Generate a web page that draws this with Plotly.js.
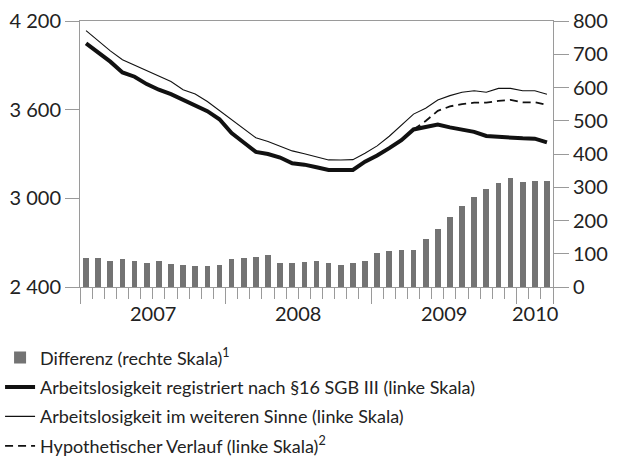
<!DOCTYPE html>
<html>
<head>
<meta charset="utf-8">
<script src="https://cdn.plot.ly/plotly-3.0.1.min.js"></script>
<style>html,body{margin:0;padding:0;background:#fff;}#chart{width:619px;height:459px;}</style>
</head>
<body>
<div id="chart"></div>
<script>
// Monthly data, Jan 2007 – Mar 2010 (thousands)
var months = ["2007-01","2007-02","2007-03","2007-04","2007-05","2007-06","2007-07","2007-08","2007-09","2007-10","2007-11","2007-12",
              "2008-01","2008-02","2008-03","2008-04","2008-05","2008-06","2008-07","2008-08","2008-09","2008-10","2008-11","2008-12",
              "2009-01","2009-02","2009-03","2009-04","2009-05","2009-06","2009-07","2009-08","2009-09","2009-10","2009-11","2009-12",
              "2010-01","2010-02","2010-03"];
var differenz = [86,86,79,83,77,73,77,70,67,63,63,67,
                 83,86,89,95,73,73,76,79,72,66,72,79,
                 101,108,111,111,143,175,211,244,272,295,314,327,
                 317,320,320];
var registriert = [4049,3990,3925,3852,3823,3773,3735,3705,3665,3632,3590,3535,
                   3442,3378,3314,3300,3276,3237,3228,3210,3192,3192,3192,3248,
                   3290,3340,3393,3466,3485,3500,3480,3468,3450,3422,3417,3407,
                   3406,3404,3379];
var weiterSinne = [4135,4065,3998,3938,3902,3862,3828,3790,3735,3706,3655,3595,
                   3530,3470,3410,3385,3352,3321,3302,3280,3260,3259,3262,3305,
                   3355,3420,3494,3570,3610,3665,3695,3718,3728,3718,3744,3744,
                   3728,3728,3704];
var hypothetisch = [null,null,null,null,null,null,null,null,null,null,null,null,
                    null,null,null,null,null,null,null,null,null,null,null,null,
                    null,null,null,3466,3523,3592,3622,3638,3647,3647,3660,3666,
                    3650,3650,3632];
var years = ["2007","2008","2009","2010"];
var yearCenters = [5.5, 17.5, 29.5, 37];
var leftTicks = [2400, 3000, 3600, 4200];
var leftTickText = ["2 400", "3 000", "3 600", "4 200"];

var idx = months.map(function(m, i){ return i; });
var FONT = "Lato, Open Sans, sans-serif";
var GRAY = "#9a9a9a";
var TXT = "#222222";

var traces = [
  {type:"bar", x: idx, y: differenz, yaxis:"y2", name:"Differenz (rechte Skala)<sup>1</sup>",
   marker:{color:"#737373"}, width:0.47, legendgroup:"a"},
  {type:"scatter", mode:"lines", x: idx, y: registriert, name:"Arbeitslosigkeit registriert nach §16 SGB III (linke Skala)",
   line:{color:"#111111", width:4}, legendgroup:"b"},
  {type:"scatter", mode:"lines", x: idx, y: weiterSinne, name:"Arbeitslosigkeit im weiteren Sinne (linke Skala)",
   line:{color:"#111111", width:1.1}, legendgroup:"c"},
  {type:"scatter", mode:"lines", x: idx, y: hypothetisch, name:"Hypothetischer Verlauf (linke Skala)<sup>2</sup>",
   line:{color:"#111111", width:1.8, dash:"8px,5px"}, legendgroup:"d", connectgaps:false}
];

var annotations = years.map(function(y, i){
  return {x: yearCenters[i], xref:"x", y: -0.098, yref:"paper", text: y, showarrow:false,
          xanchor:"center", yanchor:"middle", font:{family:FONT, size:20, color:TXT}};
});

var layout = {
  width:619, height:459,
  margin:{l:80, r:66, t:21, b:172, pad:0, autoexpand:false},
  paper_bgcolor:"#ffffff", plot_bgcolor:"#ffffff",
  font:{family:FONT, size:18, color:TXT},
  showlegend:true,
  bargap:0,
  xaxis:{range:[-0.5, 38.5], showgrid:false, zeroline:false, showline:true, linecolor:GRAY, linewidth:1, mirror:true,
         tickmode:"array", tickvals:[-0.5, 11.5, 23.5, 35.5, 38.5], showticklabels:false,
         ticks:"outside", ticklen:16, tickcolor:GRAY, tickwidth:1,
         minor:{tick0:-0.5, dtick:1, ticks:"outside", ticklen:11, tickcolor:GRAY, tickwidth:1, showgrid:false}},
  yaxis:{range:[2400, 4200], tickmode:"array", tickvals:leftTicks, ticktext:leftTickText,
         showgrid:false, zeroline:false, showline:true, linecolor:GRAY, linewidth:1,
         ticks:"outside", ticklen:14, tickcolor:GRAY, tickwidth:1,
         tickfont:{family:FONT, size:20, color:TXT}},
  yaxis2:{range:[0, 800], overlaying:"y", side:"right", dtick:100, tick0:0,
          showgrid:false, zeroline:false, showline:true, linecolor:GRAY, linewidth:1,
          ticks:"outside", ticklen:15, tickcolor:GRAY, tickwidth:1,
          tickfont:{family:FONT, size:20, color:TXT}},
  legend:{x:-0.169, xanchor:"left", y:-0.197, yanchor:"top",
          traceorder:"grouped", tracegroupgap:3,
          font:{family:FONT, size:18, color:TXT}, bgcolor:"rgba(0,0,0,0)", borderwidth:0, itemwidth:30},
  annotations: annotations
};

Plotly.newPlot("chart", traces, layout, {displayModeBar:false, staticPlot:true});
</script>
</body>
</html>
